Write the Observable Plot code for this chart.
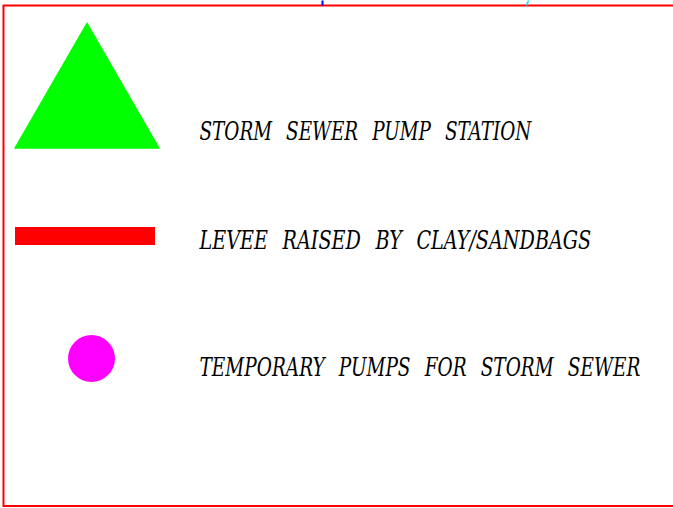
<!DOCTYPE html>
<html>
<head>
<meta charset="utf-8">
<script src="https://cdn.jsdelivr.net/npm/d3@7"></script>
<script src="https://cdn.jsdelivr.net/npm/@observablehq/plot@0.6"></script>
<style>
  html, body { margin: 0; padding: 0; background: #fff; }
  svg { display: block; }
</style>
</head>
<body>
<div id="chart"></div>
<script>
// Legend entries
const labels = ["STORM SEWER PUMP STATION", "LEVEE RAISED BY CLAY/SANDBAGS", "TEMPORARY PUMPS FOR STORM SEWER"];
const symbols = ["triangle", "bar", "circle"];
const colors = ["#00ff00", "#ff0000", "#ff00ff"];

// layout (pixel space)
const W = 673, H = 508;
const rowText = [139, 248, 375];     // text baselines
const textWidths = [332, 392, 441];  // rendered label widths
const textX = 199;
const baseFont = 20, capScale = 1.3;

const rows = labels.map((label, i) => ({label, symbol: symbols[i], color: colors[i], ty: rowText[i]}));

const chart = Plot.plot({
  width: W, height: H,
  margin: 0,
  x: {domain: [0, W], range: [0, W], axis: null},
  y: {domain: [0, H], range: [0, H], axis: null},
  marks: [
    // border (right edge lies outside the view)
    Plot.rect([0], {x1: () => 3.5, x2: () => 690, y1: () => 5.5, y2: () => 506, fill: "none", stroke: "#ff0000", strokeWidth: 2}),
    // small marks at top edge
    Plot.link([0], {x1: () => 322, y1: () => 0, x2: () => 322, y2: () => 5, stroke: "#0000ff", strokeWidth: 2}),
    Plot.link([0], {x1: () => 528, y1: () => 0, x2: () => 526, y2: () => 5, stroke: "#00e5ff", strokeWidth: 1.5}),
    // symbols
    Plot.dot(rows.filter(d => d.symbol === "triangle"), {x: () => 86.5, y: () => 106, r: 54.3, symbol: "triangle", fill: d => d.color, stroke: "none"}),
    Plot.rect(rows.filter(d => d.symbol === "bar"), {x1: () => 15, x2: () => 155, y1: () => 227, y2: () => 245, fill: d => d.color}),
    Plot.dot(rows.filter(d => d.symbol === "circle"), {x: () => 91, y: () => 358, r: 23.5, fill: d => d.color, stroke: "none"}),
    // labels
    Plot.text(rows, {x: () => textX, y: "ty", text: "label", textAnchor: "start", lineAnchor: "bottom",
      fontSize: baseFont, fontFamily: "DejaVu Serif Condensed, DejaVu Serif", fontStyle: "italic", fill: "#000"})
  ]
});
document.getElementById("chart").appendChild(chart);
chart.querySelectorAll("text").forEach(t => {
  const i = labels.indexOf(t.textContent);
  if (i >= 0) {
    t.setAttribute("font-stretch", "condensed");
    t.setAttribute("word-spacing", "8");
    const w = t.getComputedTextLength();
    const tr = t.getAttribute("transform") || `translate(${textX},${rowText[i]})`;
    t.setAttribute("transform", `${tr} scale(${(textWidths[i] / w).toFixed(4)},${capScale})`);
  }
});
</script>
</body>
</html>
